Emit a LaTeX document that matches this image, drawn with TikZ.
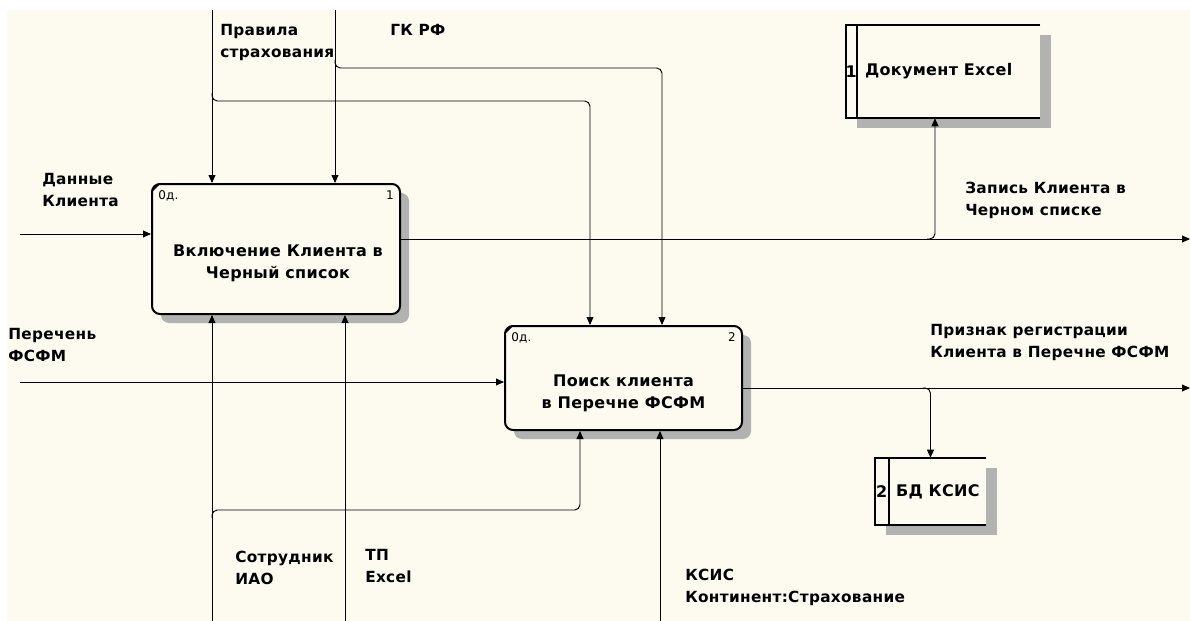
\documentclass[tikz,border=0pt]{standalone}
\usepackage{fontspec}
\setmainfont{DejaVu Sans}[LetterSpace=2]
\usetikzlibrary{positioning,arrows.meta,calc,shadows}
\definecolor{IdefPaper}{RGB}{253,250,240}
\definecolor{IdefShade}{RGB}{178,178,176}
\tikzset{
  flow/.style={-{Triangle[length=6pt,width=5.2pt]},line width=0.7pt,draw=black,rounded corners=4pt},
  procbox/.style={draw=black,fill=IdefPaper,line width=1.5pt,rounded corners=6pt,inner sep=0pt,
    drop shadow={shadow xshift=6.75pt,shadow yshift=-6.75pt,fill=IdefShade,opacity=1}},
  storebox/.style={fill=IdefPaper,inner sep=0pt,
    drop shadow={shadow xshift=8.25pt,shadow yshift=-7.5pt,fill=IdefShade,opacity=1}},
  lbl/.style={font=\bfseries\fontsize{11.5}{16.5}\selectfont,align=left,inner sep=0pt,anchor=north west},
  boxtext/.style={font=\bfseries\fontsize{12}{16.5}\selectfont,align=center,inner sep=0pt},
  tag/.style={font=\fontsize{9}{10}\selectfont,inner sep=0pt}
}

\begin{document}
\begin{tikzpicture}[x=0.75pt,y=-0.75pt]
  \useasboundingbox (0,0) rectangle (1190,621);
  \fill[white] (0,0) rectangle (1190,621);
  \fill[IdefPaper] (7,10) rectangle (1190,621);

  % activities
  \node[procbox,minimum width=186pt,minimum height=97.5pt] (box1) at (276,249) {};
  \node[boxtext] (box1txt) at ($(box1.center)+(2,14)$) {Включение Клиента в\\Черный список};
  \node[tag,anchor=north west] (box1od) at ($(box1.north west)+(7,7)$) {0д.};
  \node[tag,anchor=north east] (box1no) at ($(box1.north east)+(-7,7)$) {1};
  \node[procbox,minimum width=177.75pt,minimum height=78pt] (box2) at (623.5,378) {};
  \node[boxtext] (box2txt) at ($(box2.center)+(0,15)$) {Поиск клиента\\в Перечне ФСФМ};
  \node[tag,anchor=north west] (box2od) at ($(box2.north west)+(7,7)$) {0д.};
  \node[tag,anchor=north east] (box2no) at ($(box2.north east)+(-7,7)$) {2};
  \draw[line width=1.3pt] ($(box1.north west)+(1,8)$) -- ($(box1.north west)+(8,1)$);
  \draw[line width=1.3pt] ($(box2.north west)+(1,8)$) -- ($(box2.north west)+(8,1)$);

  % data stores
  \node[storebox,minimum width=145.5pt,minimum height=69.75pt] (store1) at (943,71.5) {};
  \draw[line width=1.5pt] (store1.north east) -- (store1.north west) -- (store1.south west) -- (store1.south east);
  \draw[line width=1.5pt] ($(store1.north west)+(11,0)$) -- ($(store1.south west)+(11,0)$);
  \node[boxtext] (store1no) at ($(store1.west)+(5.5,0)$) {1};
  \node[boxtext,anchor=west] (store1txt) at ($(store1.west)+(19,0)$) {Документ Excel};
  \node[storebox,minimum width=83.25pt,minimum height=50.25pt] (store2) at (930.5,491.5) {};
  \draw[line width=1.5pt] (store2.north east) -- (store2.north west) -- (store2.south west) -- (store2.south east);
  \draw[line width=1.5pt] ($(store2.north west)+(14,0)$) -- ($(store2.south west)+(14,0)$);
  \node[boxtext] (store2no) at ($(store2.west)+(7,0)$) {2};
  \node[boxtext,anchor=west] (store2txt) at ($(store2.west)+(21,0)$) {БД КСИС};

  % free ends and branch points
  \coordinate (inA) at (20,234);
  \coordinate (inB) at (20,382);
  \coordinate (ctlA) at (212,10);
  \coordinate (ctlB) at (335,10);
  \coordinate (ctlAbr) at (212,101);
  \coordinate (ctlBbr) at (335,68);
  \coordinate (outA) at (1190,239);
  \coordinate (outB) at (1190,388);
  \coordinate (mecA) at (212,621);
  \coordinate (mecB) at (345,621);
  \coordinate (mecC) at (660,621);
  \coordinate (mecAbr) at (212,510);

  % inputs
  \draw[flow] (inA) -- (inA -| box1.west);
  \draw[flow] (inB) -- (inB -| box2.west);
  % controls
  \draw[flow] (ctlA) -- (ctlA |- box1.north);
  \draw[flow] (ctlB) -- (ctlB |- box1.north);
  \draw[flow] ($(ctlAbr)+(0,-8)$) -- (ctlAbr) -| ($(box2.north)+(-33.5,0)$);
  \draw[flow] ($(ctlBbr)+(0,-8)$) -- (ctlBbr) -| ($(box2.north)+(38.5,0)$);
  % outputs
  \draw[flow] (box1.east |- outA) -- (outA);
  \draw[flow] (box2.east |- outB) -- (outB);
  \draw[flow] ($(store1.south |- outA)+(-16,0)$) -- ($(store1.south |- outA)+(-8,0)$) -- ($(store1.south)+(-8,0)$);
  \draw[flow] ($(store2.north |- outB)+(-8,0)$) -- (store2.north |- outB) -- (store2.north);
  % mechanisms
  \draw[flow] (mecA) -- (mecA |- box1.south);
  \draw[flow] (mecB) -- (mecB |- box1.south);
  \draw[flow] (mecC) -- (mecC |- box2.south);
  \draw[flow] ($(mecAbr)+(0,8)$) -- (mecAbr) -| ($(box2.south)+(-43.5,0)$);

  % arrow labels
  \node[lbl] (lblData) at (42,173) {Данные\\Клиента};
  \node[lbl] (lblList) at (8,328) {Перечень\\ФСФМ};
  \node[lbl] (lblRules) at (220,24) {Правила\\страхования};
  \node[lbl] (lblCode) at (390,24) {ГК РФ};
  \node[lbl] (lblRecord) at (965,182) {Запись Клиента в\\Черном списке};
  \node[lbl] (lblFlag) at (930,324) {Признак регистрации\\Клиента в Перечне ФСФМ};
  \node[lbl] (lblStaff) at (235,551) {Сотрудник\\ИАО};
  \node[lbl] (lblTool) at (365,549) {ТП\\Excel};
  \node[lbl] (lblSys) at (685,569) {КСИС\\Континент:Страхование};
\end{tikzpicture}
\end{document}
